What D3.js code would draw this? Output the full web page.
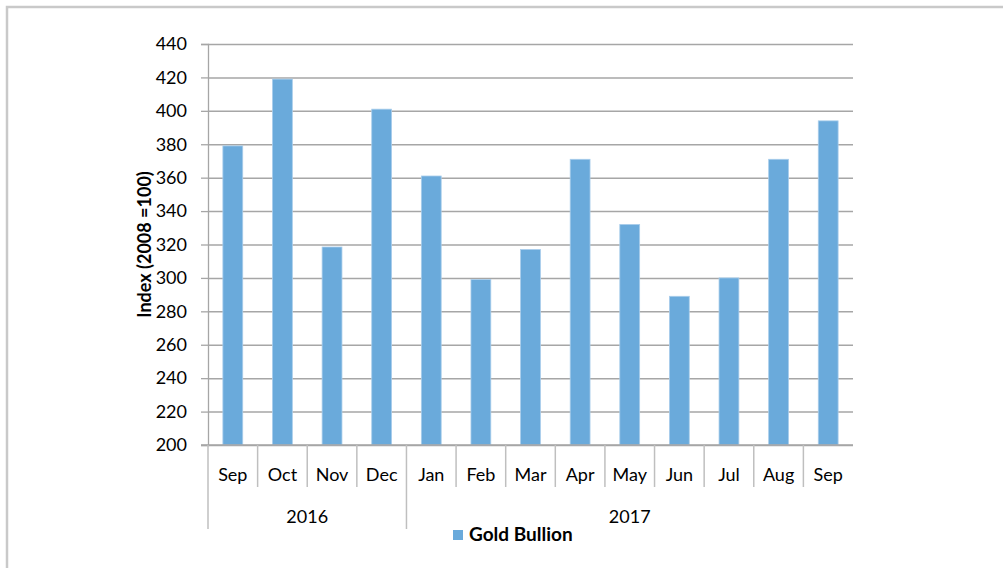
<!DOCTYPE html>
<html>
<head>
<meta charset="utf-8">
<script src="https://cdn.jsdelivr.net/npm/d3@7"></script>
<style>
  body { margin: 0; background: #fff; }
  text { font-family: Lato, "Open Sans", sans-serif; fill: #000; }
</style>
</head>
<body>
<div id="chart"></div>
<script>
// Data
const months = ['Sep', 'Oct', 'Nov', 'Dec', 'Jan', 'Feb', 'Mar', 'Apr', 'May', 'Jun', 'Jul', 'Aug', 'Sep'];
const years = ['2016', '2017'];
const yearOf = [0, 0, 0, 0, 1, 1, 1, 1, 1, 1, 1, 1, 1];
const values = [379, 419, 318.5, 401, 361, 299, 317, 371, 332, 289, 300, 371, 394];
const yTicks = [200, 220, 240, 260, 280, 300, 320, 340, 360, 380, 400, 420, 440];
const seriesName = 'Gold Bullion';

const W = 1003, H = 568;
const plot = { left: 208, right: 853, top: 44, bottom: 445 };
const keys = months.map((m, i) => i);

const svg = d3.select('#chart').append('svg')
  .attr('width', W)
  .attr('height', H);

// outer frame
svg.append('rect')
  .attr('x', 7).attr('y', 7)
  .attr('width', W + 20).attr('height', H + 20)
  .attr('fill', 'none')
  .attr('stroke', '#c9c9c9')
  .attr('stroke-width', 2.5);

const x = d3.scaleBand()
  .domain(keys)
  .range([plot.left, plot.right])
  .paddingInner(0.6)
  .paddingOuter(0.3);

const xCat = d3.scaleBand().domain(keys).range([plot.left, plot.right]);

const y = d3.scaleLinear()
  .domain([200, 440])
  .range([plot.bottom, plot.top]);

// gridlines + y axis
const yAxis = g => g
  .attr('transform', `translate(${plot.left},0)`)
  .call(d3.axisLeft(y).tickValues(yTicks).tickSize(7).tickPadding(14).tickFormat(d3.format('d')))
  .call(g => g.select('.domain').attr('stroke', '#a6a6a6').attr('stroke-width', 1.3))
  .call(g => g.selectAll('.tick line').attr('stroke', '#a6a6a6').attr('stroke-width', 1.3))
  .call(g => g.selectAll('.tick').append('line')
    .attr('x1', 0).attr('x2', plot.right - plot.left)
    .attr('stroke', '#a6a6a6').attr('stroke-width', 1.5))
  .call(g => g.selectAll('.tick text')
    .style('font-size', '18px').style('font-family', 'Lato, sans-serif').attr('fill', '#000'));

svg.append('g').call(yAxis);

// bars
svg.selectAll('.bar')
  .data(values)
  .join('rect')
  .attr('class', 'bar')
  .attr('x', (d, i) => x(i))
  .attr('y', d => y(d))
  .attr('width', x.bandwidth())
  .attr('height', d => y(200) - y(d))
  .attr('fill', '#6aaadb')
  .attr('stroke', '#a9cdeb')
  .attr('stroke-width', 0.8);

// x axis line
svg.append('line')
  .attr('x1', plot.left - 7).attr('x2', plot.right)
  .attr('y1', plot.bottom).attr('y2', plot.bottom)
  .attr('stroke', '#a6a6a6').attr('stroke-width', 1.5);

// month separators
svg.selectAll('.msep')
  .data(keys.filter(i => i > 0 && yearOf[i] === yearOf[i - 1]))
  .join('line')
  .attr('x1', i => xCat(i)).attr('x2', i => xCat(i))
  .attr('y1', plot.bottom).attr('y2', 487)
  .attr('stroke', '#bfbfbf').attr('stroke-width', 1.5);

// year separators
const yearStarts = keys.filter(i => i === 0 || yearOf[i] !== yearOf[i - 1]);
svg.selectAll('.ysep')
  .data(yearStarts)
  .join('line')
  .attr('x1', i => xCat(i)).attr('x2', i => xCat(i))
  .attr('y1', plot.bottom).attr('y2', 529)
  .attr('stroke', '#bfbfbf').attr('stroke-width', 1.5);

// month labels
svg.selectAll('.mlab')
  .data(months)
  .join('text')
  .attr('x', (d, i) => xCat(i) + xCat.bandwidth() / 2)
  .attr('y', 481)
  .attr('text-anchor', 'middle')
  .style('font-size', '18px')
  .text(d => d);

// year labels
svg.selectAll('.ylab')
  .data(years)
  .join('text')
  .attr('x', (d, k) => {
    const idx = keys.filter(i => yearOf[i] === k);
    return (xCat(idx[0]) + xCat(idx[idx.length - 1]) + xCat.bandwidth()) / 2;
  })
  .attr('y', 523)
  .attr('text-anchor', 'middle')
  .style('font-size', '18px')
  .text(d => d);

// y axis title
svg.append('text')
  .attr('transform', `translate(151,${(plot.top + plot.bottom) / 2}) rotate(-90)`)
  .attr('text-anchor', 'middle')
  .style('font-size', '18px')
  .style('font-weight', 'bold')
  .text('Index (2008 =100)');

// legend
svg.append('rect')
  .attr('x', 453).attr('y', 530)
  .attr('width', 10).attr('height', 10)
  .attr('fill', '#6aaadb');

svg.append('text')
  .attr('x', 469).attr('y', 541)
  .style('font-size', '19px')
  .style('font-weight', 'bold')
  .text(seriesName);
</script>
</body>
</html>
